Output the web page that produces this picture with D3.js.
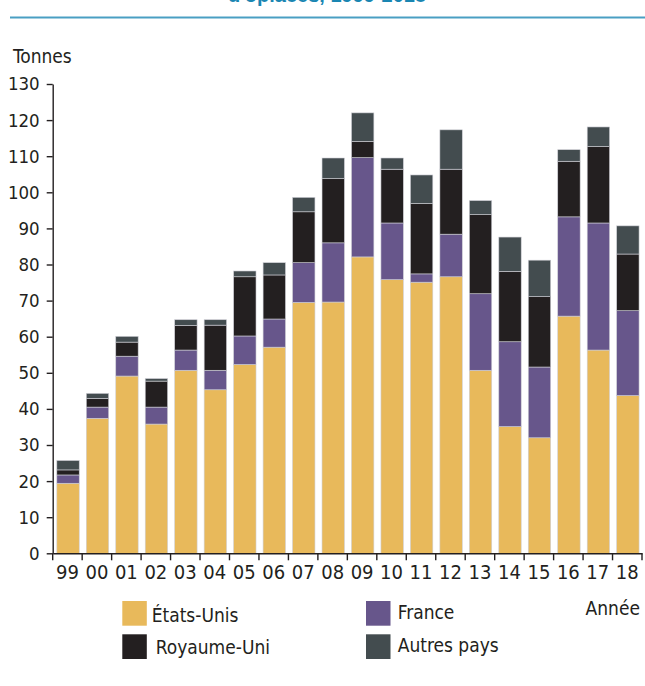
<!DOCTYPE html>
<html>
<head>
<meta charset="utf-8">
<script src="https://cdn.jsdelivr.net/npm/d3@7"></script>
<style>
  html, body { margin: 0; padding: 0; background: #fff; }
  svg { display: block; }
  text { font-family: "Liberation Sans Narrow", "DejaVu Sans Condensed", "Roboto", sans-serif; fill: #231F20; }
</style>
</head>
<body>
<svg id="chart" width="645" height="686"></svg>
<script>
const years = ["99","00","01","02","03","04","05","06","07","08","09","10","11","12","13","14","15","16","17","18"];
const etatsUnis  = [19.4, 37.4, 49.1, 35.8, 50.7, 45.3, 52.3, 57.1, 69.5, 69.6, 82.1, 75.8, 75.1, 76.6, 50.7, 35.1, 32.0, 65.7, 56.3, 43.7];
const france     = [ 2.3,  3.1,  5.5,  4.7,  5.6,  5.4,  7.9,  7.8, 11.0, 16.4, 27.5, 15.7,  2.3, 11.8, 21.2, 23.5, 19.6, 27.5, 35.2, 23.5];
const royaumeUni = [ 1.4,  2.4,  3.9,  7.2,  6.8, 12.5, 16.4, 12.2, 14.1, 17.8,  4.5, 14.9, 19.5, 18.0, 21.9, 19.5, 19.5, 15.4, 21.2, 15.7];
const autresPays = [ 2.6,  1.4,  1.6,  0.7,  1.6,  1.5,  1.6,  3.4,  4.0,  5.7,  7.9,  3.1,  7.9, 10.9,  3.9,  9.5, 10.1,  3.2,  5.4,  7.8];
const seriesNames = ["États-Unis", "France", "Royaume-Uni", "Autres pays"];
const seriesKeys = ["us", "fr", "uk", "other"];
const seriesColors = ["#E8B95B", "#67568B", "#231F20", "#434C4F"];
const yTicks = [0,10,20,30,40,50,60,70,80,90,100,110,120,130];
const titleText = "d'opiacés, 1999-2018";
const yLabel = "Tonnes";
const xLabel = "Année";

const rows = years.map((y, i) => ({year: y, us: etatsUnis[i], fr: france[i], uk: royaumeUni[i], other: autresPays[i]}));
const stacked = d3.stack().keys(seriesKeys)(rows);

const svg = d3.select("#chart");

// Title (cut off at top) and rule
svg.append("text").attr("x", 327).attr("y", 2).attr("text-anchor", "middle")
  .style("font-family", "'Liberation Sans', Arial, sans-serif")
  .style("font-weight", "bold").style("font-size", "20px").style("fill", "#1A86B2")
  .text(titleText);
svg.append("line").attr("x1", 10).attr("x2", 645).attr("y1", 17.5).attr("y2", 17.5)
  .attr("stroke", "#4A9FC3").attr("stroke-width", 2.2);

const x = d3.scaleBand().domain(years).range([52.7, 642]).paddingInner(0.24).paddingOuter(0.12);
const y = d3.scaleLinear().domain([0, 130]).range([553.3, 84]);

// Bars
svg.append("g").selectAll("g").data(stacked).join("g")
  .attr("fill", (d, i) => seriesColors[i])
  .selectAll("rect").data(d => d).join("rect")
  .attr("x", d => x(d.data.year) + 0.6)
  .attr("width", x.bandwidth())
  .attr("y", d => y(d[1]))
  .attr("height", d => y(d[0]) - y(d[1]))
  .attr("stroke", "#cfcfd6").attr("stroke-width", 0.6);

// Y axis
const yAxis = d3.axisLeft(y).tickValues(yTicks).tickSize(6).tickPadding(7).tickSizeOuter(0);
const yg = svg.append("g").attr("transform", "translate(52.7,0)").call(yAxis);
yg.select(".domain").attr("stroke", "#231F20").attr("stroke-width", 1.4);
yg.selectAll(".tick line").attr("stroke", "#231F20").attr("stroke-width", 1.4);
yg.selectAll(".tick text").style("font-size", "18.5px").style("fill", "#231F20");

// X axis
const xAxis = d3.axisBottom(x).tickSize(0).tickPadding(12).tickSizeOuter(0);
const xg = svg.append("g").attr("transform", "translate(0,553.3)").call(xAxis);
xg.select(".domain").attr("stroke", "#231F20").attr("stroke-width", 1.4);
xg.selectAll(".tick text").style("font-size", "20px").style("fill", "#231F20");
const step = x.step();
const boundaries = d3.range(years.length + 1).map(i => x.range()[0] + i * step);
xg.selectAll(".bnd").data(boundaries).join("line").attr("class", "bnd")
  .attr("x1", d => d).attr("x2", d => d).attr("y1", 0).attr("y2", 7)
  .attr("stroke", "#231F20").attr("stroke-width", 1.4);

// Axis titles
svg.append("text").attr("x", 13).attr("y", 63).style("font-size", "19px").text(yLabel);
svg.append("text").attr("x", 640).attr("y", 615).attr("text-anchor", "end").style("font-size", "19px").text(xLabel);

// Legend
const legendPos = [
  {sx: 122.3, sy: 601, tx: 151.7, ty: 621.5},
  {sx: 366, sy: 601, tx: 397.7, ty: 618.5},
  {sx: 122.3, sy: 634.3, tx: 155.7, ty: 653.5},
  {sx: 366, sy: 634.3, tx: 397.7, ty: 652}
];
const lg = svg.append("g");
seriesNames.forEach((name, i) => {
  const p = legendPos[i];
  lg.append("rect").attr("x", p.sx).attr("y", p.sy).attr("width", 24.5).attr("height", 24.7).attr("fill", seriesColors[i]);
  lg.append("text").attr("x", p.tx).attr("y", p.ty).style("font-size", "19px").text(name);
});
</script>
</body>
</html>
